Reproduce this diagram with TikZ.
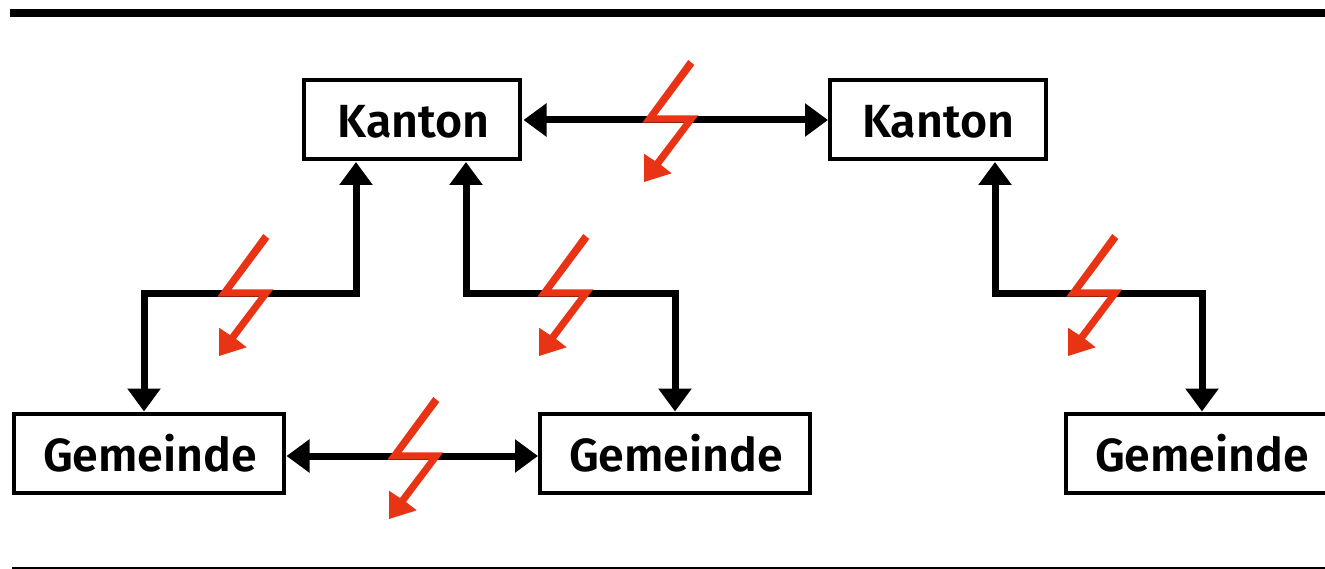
\documentclass[tikz,border=0pt]{standalone}
\usepackage{fontspec}
\setmainfont{Fira Sans}[BoldFont={Fira Sans SemiBold}]
\usetikzlibrary{arrows.meta}
\definecolor{boltred}{RGB}{232,52,20}
\tikzset{
 x=1pt,y=-1pt,
 box/.style={draw=black,line width=4pt,fill=white,inner sep=0pt,outer sep=0pt,minimum height=79pt,font=\fontsize{46.5}{46.5}\selectfont\bfseries},
 conn/.style={draw=black,line width=7pt,{Triangle[length=23pt,width=32pt]}-{Triangle[length=23pt,width=32pt]}},
 boltshape/.style={fill=boltred,draw=none},
 rule/.style={fill=black,draw=none}
}
\newcommand{\bolt}[2]{\fill[boltshape,shift={(#1,#2)}] (263.3,234) -- (269.3,239) -- (231.7,289.3) -- (273.3,289.3) -- (236,339) -- (246.7,347.3) -- (219,356) -- (219,327.7) -- (230,335) -- (259,296.7) -- (217.3,296.7) -- cycle;}
\begin{document}
\begin{tikzpicture}
\useasboundingbox (0,0) rectangle (1325,569);
\fill[rule] (10,9) rectangle (1325,17);
\fill[rule] (12,566.5) rectangle (1325,569);
\node[box,minimum width=216pt] (k1) at (412.3,120) {\hspace{3pt}\raisebox{-2pt}[\height][\depth]{Kanton}};
\node[box,minimum width=216pt] (k2) at (937.8,120) {\hspace{1pt}\raisebox{-2pt}[\height][\depth]{Kanton}};
\node[box,minimum width=270pt] (g1) at (149,453.5) {\hspace{2pt}Gemeinde};
\node[box,minimum width=270pt] (g2) at (675,453.5) {\hspace{2pt}Gemeinde};
\node[box,minimum width=270pt] (g3) at (1201,453.5) {\hspace{2pt}Gemeinde};
\coordinate (k1w) at (523.5,120); \coordinate (k2w) at (828,120);
\coordinate (g1e) at (286.5,456); \coordinate (g2w) at (538,456);
\coordinate (k1a) at (356,162); \coordinate (k1b) at (466,162);
\coordinate (k2a) at (995,162);
\coordinate (g1a) at (144,411.5); \coordinate (g2a) at (675,411.5); \coordinate (g3a) at (1202,411.5);
\draw[conn] (k1w) -- (k2w);
\draw[conn] (g1e) -- (g2w);
\draw[conn] (k1a) -- (k1a |- 0,293.5) -- (g1a |- 0,293.5) -- (g1a);
\draw[conn] (k1b) -- (k1b |- 0,293.5) -- (g2a |- 0,293.5) -- (g2a);
\draw[conn] (k2a) -- (k2a |- 0,293.5) -- (g3a |- 0,293.5) -- (g3a);
\bolt{0}{0}
\bolt{320}{0}
\bolt{849}{0}
\bolt{425}{-174}
\bolt{170}{163}
\end{tikzpicture}
\end{document}
